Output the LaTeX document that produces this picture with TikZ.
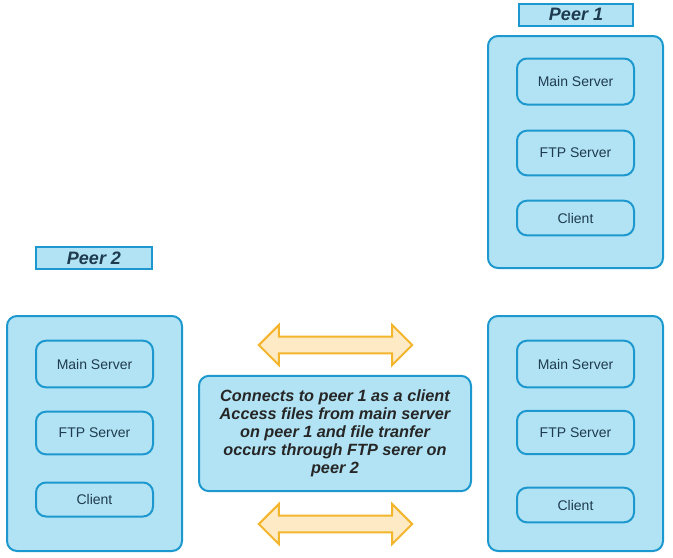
\documentclass[tikz,border=0pt]{standalone}
\usepackage{fontspec}
\setmainfont{Liberation Sans}
\usetikzlibrary{shapes.arrows}

\definecolor{peerfill}{HTML}{B1E3F4}
\definecolor{peerline}{HTML}{1C98CF}
\definecolor{peertext}{HTML}{1F3B4F}
\definecolor{arrowfill}{HTML}{FFEAC6}
\definecolor{arrowline}{HTML}{F2B52C}

\begin{document}
\begin{tikzpicture}[x=0.75pt,y=-0.75pt,
    peerbox/.style={draw=peerline,fill=peerfill,line width=1.5pt,rounded corners=7.5pt,minimum width=131.25pt},
    partbox/.style={draw=peerline,fill=peerfill,line width=1.5pt,rounded corners=7.5pt,minimum width=87.75pt,text=peertext,font=\fontsize{10.5}{12}\selectfont},
    peerlabel/.style={draw=peerline,fill=peerfill,line width=1.5pt,minimum width=86pt,minimum height=16.5pt,inner sep=0pt,text=peertext,font=\fontsize{13.5}{15}\selectfont\bfseries\itshape},
    linkarrow/.style={shape=double arrow,draw=arrowline,fill=arrowfill,line width=1.5pt,minimum height=115pt,inner xsep=0pt,inner ysep=5.5pt,double arrow head extend=8.75pt,double arrow tip angle=90}]

    \useasboundingbox (0,0) rectangle (673,557);

    % peer 1, top right
    \node[peerlabel] (p1label) at (576,14.5) {Peer 1};
    \node[peerbox,minimum height=174pt] (p1) at (575.5,152) {};
    \node[partbox,minimum height=34.5pt] (p1main) at (575.5,81.5) {Main Server};
    \node[partbox,minimum height=33.5pt] (p1ftp) at (575.5,153) {FTP Server};
    \node[partbox,minimum height=26pt] (p1client) at (575.5,218) {Client};

    % peer 2, bottom left
    \node[peerlabel,minimum width=87.5pt,minimum height=17pt] (p2label) at (94,258) {Peer 2};
    \node[peerbox,minimum height=176.25pt] (p2) at (94.5,433.5) {};
    \node[partbox,minimum height=35pt] (p2main) at (94.5,364) {Main Server};
    \node[partbox,minimum height=32pt] (p2ftp) at (94.5,433) {FTP Server};
    \node[partbox,minimum height=25.5pt] (p2client) at (94.5,499.5) {Client};

    % peer 1 again, bottom right
    \node[peerbox,minimum height=176.25pt] (p1b) at (575.5,433.5) {};
    \node[partbox,minimum height=35pt] (p1bmain) at (575.5,364) {Main Server};
    \node[partbox,minimum height=32.5pt] (p1bftp) at (575.5,432.5) {FTP Server};
    \node[partbox,minimum height=26pt] (p1bclient) at (575.5,505) {Client};

    % the link between them
    \node[partbox,minimum width=204pt,minimum height=86.5pt,align=center,font=\fontsize{12.2}{13.5}\selectfont\bfseries\itshape,text=black!85] (note) at (335,433.5)
        {Connects to peer 1 as a client\\Access files from main server\\on peer 1 and file tranfer\\occurs through FTP serer on\\peer 2};
    \node[linkarrow] (toparrow) at (335.5,345) {};
    \node[linkarrow] (botarrow) at (335.5,524) {};

\end{tikzpicture}
\end{document}
